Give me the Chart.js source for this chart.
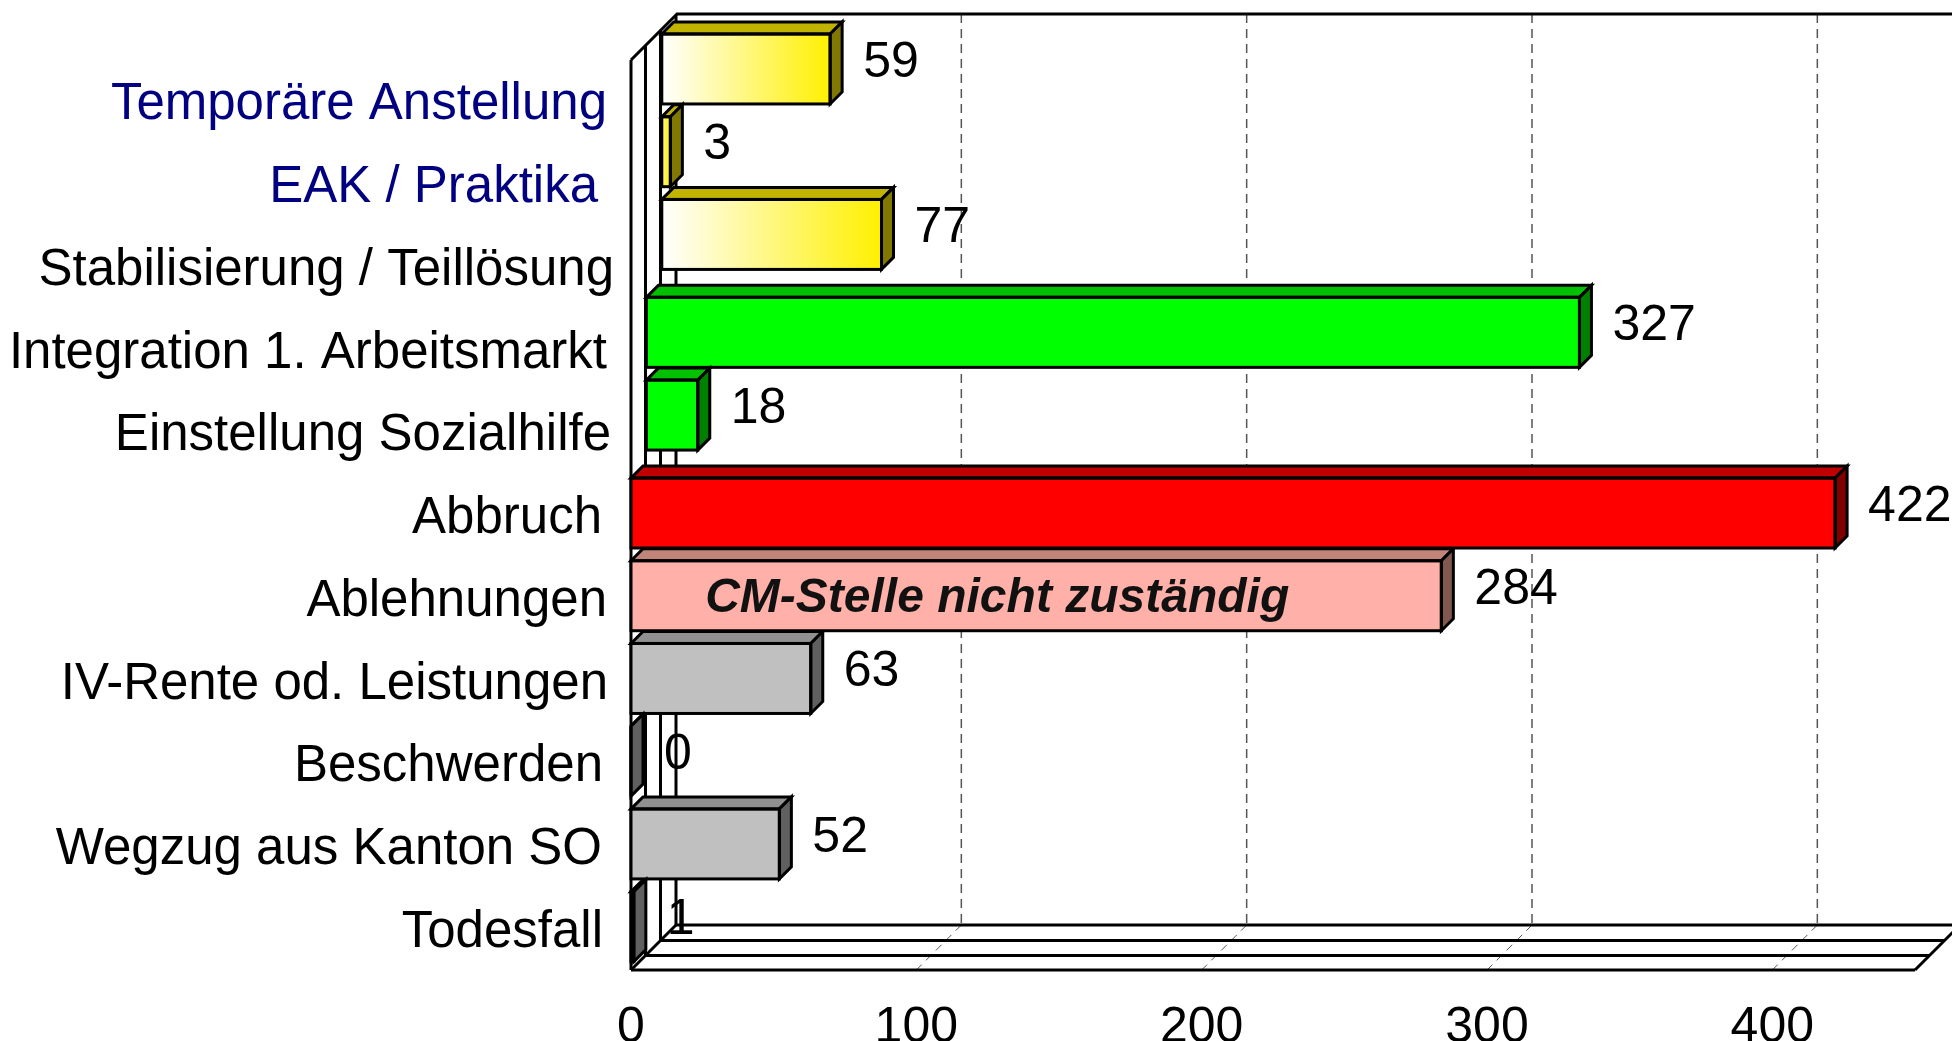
<!DOCTYPE html>
<html>
<head>
<meta charset="utf-8">
<title>Chart</title>
<script src="https://cdn.jsdelivr.net/npm/chart.js@4"></script>
<style>
  html, body { margin: 0; padding: 0; background: #fff; overflow: hidden; }
  canvas { display: block; }
</style>
</head>
<body>
<canvas id="chart" width="1952" height="1041"></canvas>
<script>
const categories = ['Temporäre Anstellung', 'EAK / Praktika', 'Stabilisierung / Teillösung', 'Integration 1. Arbeitsmarkt', 'Einstellung Sozialhilfe', 'Abbruch', 'Ablehnungen', 'IV-Rente od. Leistungen', 'Beschwerden', 'Wegzug aus Kanton SO', 'Todesfall'];
const yellowValues = [59, 3, 77, null, null, null, null, null, null, null, null];
const greenValues = [null, null, null, 327, 18, null, null, null, null, null, null];
const redValues = [null, null, null, null, null, 422, null, null, null, null, null];
const salmonValues = [null, null, null, null, null, null, 284, null, null, null, null];
const greyValues = [null, null, null, null, null, null, null, 63, 0, 52, 1];
const xTicks = [0, 100, 200, 300, 400];
const annotationText = 'CM-Stelle nicht zuständig';

// left labels are not quite flush in the original
const labelNudge = [0, -9, 7, 0, 4, -5, 0, 1, -4, -5, -4];
const labelColors = ['#000080', '#000080', '#000', '#000', '#000', '#000', '#000', '#000', '#000', '#000', '#000'];

const FONT = '"Liberation Sans", Arial, sans-serif';
const DEPTH = 12;       // box depth of one bar
const PLANE_X = 15.4;   // shift per row going back
const PLANE_Y = 15.2;
const BAR_LIFT = 2;

function yellowFade(c) {
  const x = c.chart.scales.x;
  if (c.raw === null || c.raw === undefined || !x) return '#fff000';
  const x0 = x.getPixelForValue(0), x1 = x.getPixelForValue(Math.max(c.raw, 1));
  if (!Number.isFinite(x0) || !Number.isFinite(x1)) return '#fff000';
  const g = c.chart.ctx.createLinearGradient(x0, 0, x1, 0);
  g.addColorStop(0, c.raw < 10 ? '#fff690' : '#ffffff');
  g.addColorStop(1, '#fff000');
  return g;
}

function series(label, data, plane, front, top, side) {
  return { label, data, plane, backgroundColor: front, topColor: top, sideColor: side,
    borderWidth: 0, barThickness: 70, clip: false };
}

const box3d = {
  id: 'box3d',
  beforeDraw(chart) {
    const items = chart.scales.y.getLabelItems();
    items.forEach((it, i) => {
      if (it.nudged) return;
      it.options.translation[0] += labelNudge[i];
      it.options.translation[1] += 4;
      it.nudged = true;
    });
  },
  beforeDatasetsDraw(chart) {
    const { ctx, scales: { x, y }, chartArea: a } = chart;
    const w = 3;
    ctx.save();
    // dashed grid on back wall and floor
    ctx.strokeStyle = '#555';
    ctx.lineWidth = 1.5;
    ctx.setLineDash([9, 6]);
    xTicks.slice(1).forEach(v => {
      const px = x.getPixelForValue(v);
      ctx.beginPath();
      ctx.moveTo(px + 45, 14);
      ctx.lineTo(px + 45, a.bottom - 45);
      ctx.stroke();
    });
    ctx.lineWidth = 1;
    ctx.setLineDash([8, 6]);
    xTicks.slice(1).forEach(v => {
      const px = x.getPixelForValue(v);
      ctx.beginPath();
      ctx.moveTo(px + 45, a.bottom - 45);
      ctx.lineTo(px, a.bottom);
      ctx.stroke();
    });
    ctx.setLineDash([]);
    // walls
    ctx.strokeStyle = '#000';
    ctx.lineWidth = w;
    [0, 14.5, 29.5, 45].forEach(d => {
      ctx.beginPath();
      ctx.moveTo(a.left + d, a.top - d);
      ctx.lineTo(a.left + d, a.bottom - d);
      ctx.stroke();
      ctx.beginPath();
      ctx.moveTo(a.left + d, a.bottom - d);
      ctx.lineTo(a.right + d, a.bottom - d);
      ctx.stroke();
    });
    ctx.beginPath();
    ctx.moveTo(a.left, a.top);
    ctx.lineTo(a.left + 46, 14);
    ctx.lineTo(1952, 14);
    ctx.moveTo(a.left, a.bottom);
    ctx.lineTo(a.left + 45, a.bottom - 45);
    ctx.moveTo(a.right, a.bottom);
    ctx.lineTo(a.right + 45, a.bottom - 45);
    ctx.stroke();
    ctx.restore();
  },
  beforeDatasetDraw(chart, args) {
    const p = args.meta.controller.getDataset().plane;
    chart.ctx.save();
    chart.ctx.translate(p * PLANE_X, -p * PLANE_Y - BAR_LIFT);
  },
  afterDatasetDraw(chart, args) {
    const { ctx } = chart;
    const ds = args.meta.controller.getDataset();
    ctx.lineWidth = 3;
    ctx.strokeStyle = '#000';
    ctx.lineJoin = 'miter';
    args.meta.data.forEach((bar, i) => {
      if (ds.data[i] === null) return;
      const x0 = bar.base, x1 = bar.x, top = bar.y - bar.height / 2, bot = bar.y + bar.height / 2;
      ctx.fillStyle = ds.topColor;
      ctx.beginPath();
      ctx.moveTo(x0, top);
      ctx.lineTo(x0 + DEPTH, top - DEPTH);
      ctx.lineTo(x1 + DEPTH, top - DEPTH);
      ctx.lineTo(x1, top);
      ctx.closePath();
      ctx.fill();
      ctx.stroke();
      ctx.fillStyle = ds.sideColor;
      ctx.beginPath();
      ctx.moveTo(x1, top);
      ctx.lineTo(x1 + DEPTH, top - DEPTH);
      ctx.lineTo(x1 + DEPTH, bot - DEPTH);
      ctx.lineTo(x1, bot);
      ctx.closePath();
      ctx.fill();
      ctx.stroke();
      ctx.strokeRect(x0, top, x1 - x0, bot - top);
    });
    ctx.restore();
  },
  afterDatasetsDraw(chart) {
    const { ctx, scales: { x } } = chart;
    ctx.save();
    ctx.font = '50px ' + FONT;
    ctx.fillStyle = '#000';
    ctx.textAlign = 'left';
    ctx.textBaseline = 'middle';
    chart.data.datasets.forEach((ds, k) => {
      const meta = chart.getDatasetMeta(k);
      meta.data.forEach((bar, i) => {
        if (ds.data[i] === null) return;
        const dx = ds.plane * PLANE_X, dy = -ds.plane * PLANE_Y - BAR_LIFT;
        ctx.fillText(String(ds.data[i]), bar.x + dx + 33, bar.y + dy - 6);
      });
    });
    // note inside the Ablehnungen bar
    const row = chart.scales.y.getPixelForValue(6);
    ctx.font = 'italic bold 48px ' + FONT;
    ctx.fillStyle = '#111';
    ctx.fillText(annotationText, x.getPixelForValue(26), row + 1);
    ctx.restore();
  }
};

new Chart(document.getElementById('chart'), {
  type: 'bar',
  data: {
    labels: categories,
    datasets: [
      series('Rot', redValues, 0, '#ff0000', '#c00000', '#800000'),
      series('Lachs', salmonValues, 0, '#ffb0a8', '#c08478', '#805850'),
      series('Grau', greyValues, 0, '#c0c0c0', '#909090', '#606060'),
      series('Grün', greenValues, 1, '#00ff00', '#00c000', '#008000'),
      series('Gelb', yellowValues, 2, yellowFade, '#c0b400', '#807800')
    ]
  },
  options: {
    indexAxis: 'y',
    responsive: false,
    animation: false,
    layout: { padding: { top: 60, right: 37, left: 0, bottom: 0 } },
    plugins: { legend: { display: false }, tooltip: { enabled: false } },
    datasets: { bar: { grouped: false } },
    scales: {
      x: {
        type: 'linear',
        min: 0,
        max: 450,
        afterBuildTicks: s => { s.ticks = xTicks.map(v => ({ value: v })); },
        afterFit: s => { s.height = 71; },
        grid: { display: false },
        border: { display: false },
        ticks: { color: '#000', padding: 20, maxRotation: 0, autoSkip: false, font: { family: FONT, size: 50 } }
      },
      y: {
        type: 'category',
        afterFit: s => { s.width = 631; },
        grid: { display: false },
        border: { display: false },
        ticks: {
          color: c => labelColors[c.index],
          padding: 16,
          autoSkip: false,
          font: { family: FONT, size: 51 }
        }
      }
    }
  },
  plugins: [box3d]
});
</script>
</body>
</html>
